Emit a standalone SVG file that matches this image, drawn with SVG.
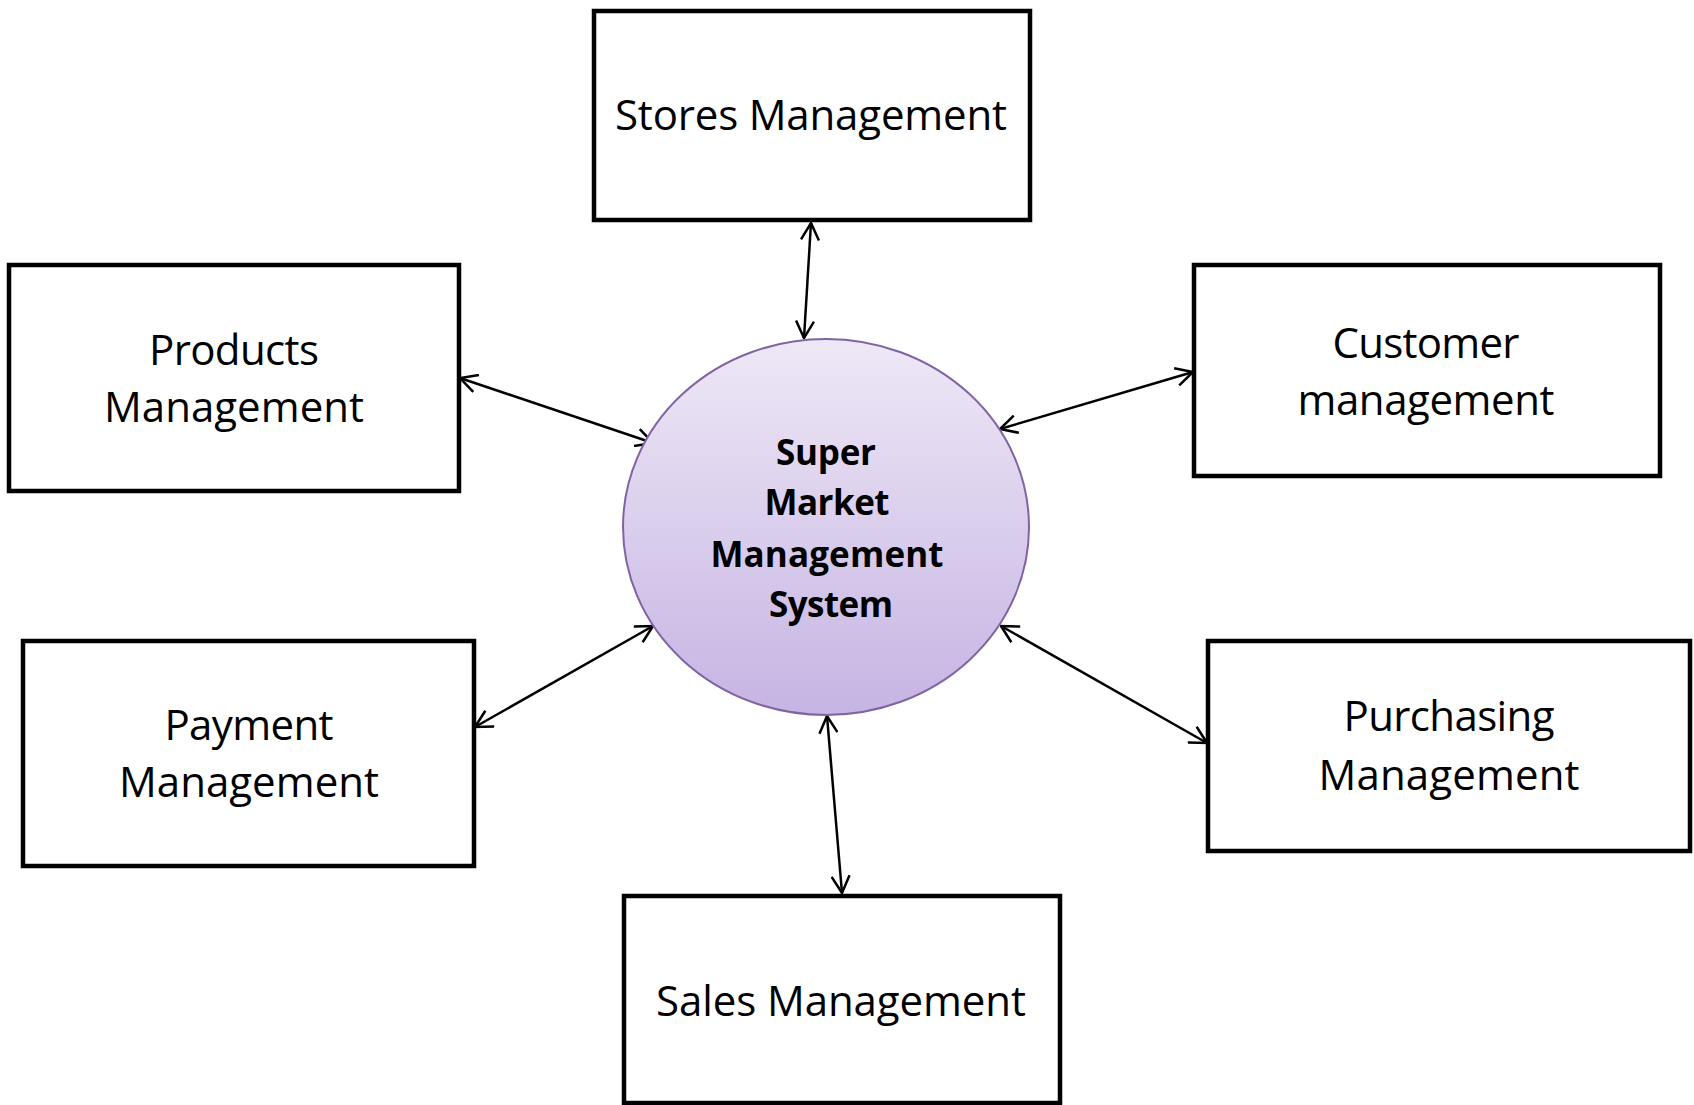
<svg xmlns="http://www.w3.org/2000/svg" width="1694" height="1105" viewBox="0 0 1694 1105">
<style>
.box{fill:#fff;stroke:#000;stroke-width:4.5}
.t{font-family:"Open Sans","Noto Sans","Liberation Sans",sans-serif;font-size:42px;fill:#000;text-anchor:middle}
.b{font-family:"Open Sans","Noto Sans","Liberation Sans",sans-serif;font-size:35px;font-weight:bold;fill:#000;text-anchor:middle}
.c{stroke:#000;stroke-width:2.5;fill:none;marker-start:url(#ah);marker-end:url(#ah)}
</style>
<defs>
<linearGradient id="g" x1="0" y1="0" x2="0" y2="1">
<stop offset="0" stop-color="#eee8f6"/>
<stop offset="1" stop-color="#c6b4e3"/>
</linearGradient>
<marker id="ah" viewBox="0 0 20 20" refX="19" refY="10" markerWidth="20" markerHeight="20" markerUnits="userSpaceOnUse" orient="auto-start-reverse">
<path d="M2,1 L19,10 L2,19" fill="none" stroke="#000" stroke-width="2.5"/>
</marker>
</defs>
<rect width="1694" height="1105" fill="#fff"/>
<g id="connectors">
<line class="c" x1="811" y1="223" x2="804" y2="338"/>
<line class="c" x1="460" y1="378" x2="653" y2="443"/>
<line class="c" x1="1000" y1="429" x2="1193" y2="372"/>
<line class="c" x1="653" y1="626" x2="475" y2="727"/>
<line class="c" x1="1001" y1="626" x2="1207" y2="743"/>
<line class="c" x1="827" y1="716" x2="842" y2="893"/>
</g>
<g id="stores">
<rect class="box" x="594" y="11" width="436" height="209"/>
<text class="t" x="811" y="130" textLength="392">Stores Management</text>
</g>
<g id="products">
<rect class="box" x="9" y="265" width="450" height="226"/>
<text class="t" x="234" y="365" textLength="170">Products</text>
<text class="t" x="234" y="422" textLength="260">Management</text>
</g>
<g id="customer">
<rect class="box" x="1194" y="265" width="466" height="211"/>
<text class="t" x="1426" y="358" textLength="187">Customer</text>
<text class="t" x="1426" y="415" textLength="257">management</text>
</g>
<g id="payment">
<rect class="box" x="23" y="641" width="451" height="225"/>
<text class="t" x="249" y="740" textLength="169">Payment</text>
<text class="t" x="249" y="797" textLength="260">Management</text>
</g>
<g id="purchasing">
<rect class="box" x="1208" y="641" width="482" height="210"/>
<text class="t" x="1449" y="731" textLength="211">Purchasing</text>
<text class="t" x="1449" y="790" textLength="261">Management</text>
</g>
<g id="sales">
<rect class="box" x="624" y="896" width="436" height="207"/>
<text class="t" x="841" y="1016" textLength="370">Sales Management</text>
</g>
<g id="center">
<ellipse cx="826" cy="527" rx="203" ry="188" fill="url(#g)" stroke="#8064a2" stroke-width="2"/>
<text class="b" x="826" y="465" textLength="100">Super</text>
<text class="b" x="827" y="515" textLength="125">Market</text>
<text class="b" x="827" y="567" textLength="233">Management</text>
<text class="b" x="831" y="617" textLength="124">System</text>
</g>
</svg>
